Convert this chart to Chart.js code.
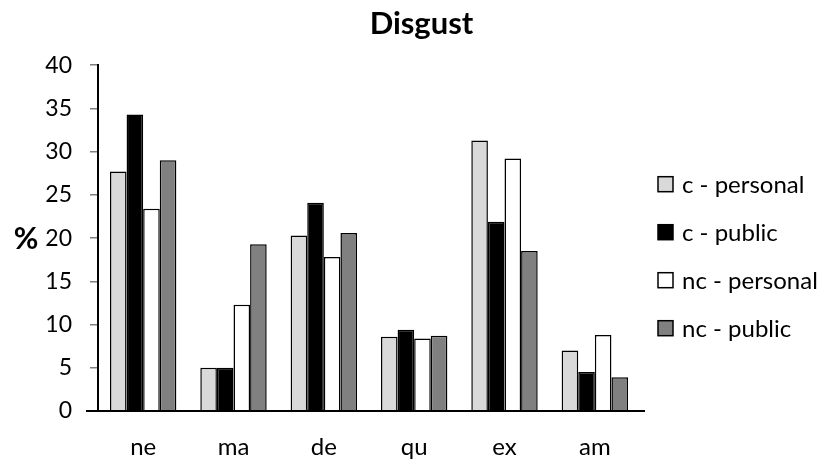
<!DOCTYPE html>
<html>
<head>
<meta charset="utf-8">
<title>Disgust</title>
<script src="https://cdn.jsdelivr.net/npm/chart.js@4/dist/chart.umd.min.js"></script>
<style>
  html, body { margin: 0; padding: 0; background: #fff; }
  #wrap { width: 821px; height: 461px; }
</style>
</head>
<body>
<div id="wrap"><canvas id="chart" width="821" height="461"></canvas></div>
<script>
// Categories and percentages per group
const categories = ['ne', 'ma', 'de', 'qu', 'ex', 'am'];
const cPersonal  = [27.7, 5.0, 20.3, 8.6, 31.3, 7.0];
const cPublic    = [34.3, 5.0, 24.1, 9.4, 21.9, 4.5];
const ncPersonal = [23.4, 12.3, 17.8, 8.4, 29.2, 8.8];
const ncPublic   = [29.0, 19.3, 20.6, 8.7, 18.5, 3.9];
const seriesNames = ['c - personal', 'c - public', 'nc - personal', 'nc - public'];
const yTicks = [0, 5, 10, 15, 20, 25, 30, 35, 40];

const FONT = 'Lato, "Open Sans", sans-serif';
const fills = ['#d9d9d9', '#000000', '#ffffff', '#808080'];
const seriesValues = [cPersonal, cPublic, ncPersonal, ncPublic];

const datasets = seriesNames.map((name, i) => ({
  label: name,
  data: seriesValues[i],
  backgroundColor: fills[i],
  borderColor: '#000',
  borderWidth: 1.5,
  borderSkipped: 'start',
  categoryPercentage: 0.735,
  barPercentage: 1.0
}));

// Extra drawing: "%" axis label, axis line extensions and the legend
const decorations = {
  id: 'decorations',
  afterDraw(chart) {
    const { ctx, chartArea: a } = chart;
    ctx.save();
    // x axis line runs slightly past both ends
    ctx.strokeStyle = '#000';
    ctx.lineWidth = 2;
    ctx.beginPath();
    ctx.moveTo(86, a.bottom);
    ctx.lineTo(a.right + 5, a.bottom);
    ctx.stroke();

    // horizontal "%" axis title
    ctx.fillStyle = '#000';
    ctx.font = 'bold 30px ' + FONT;
    ctx.textAlign = 'center';
    ctx.textBaseline = 'middle';
    ctx.fillText('%', 26, (a.top + a.bottom) / 2 + 1);

    // legend
    ctx.font = '24px ' + FONT;
    ctx.textAlign = 'left';
    const bx = a.right + 18;
    chart.data.datasets.forEach((ds, i) => {
      const cy = a.top + 119 + i * 48;
      ctx.fillStyle = ds.backgroundColor;
      ctx.fillRect(bx, cy - 7.5, 15, 15);
      ctx.strokeStyle = '#000';
      ctx.lineWidth = 1.5;
      ctx.strokeRect(bx, cy - 7.5, 15, 15);
      ctx.fillStyle = '#000';
      ctx.fillText(ds.label, bx + 24, cy + 1);
    });
    ctx.restore();
  }
};

new Chart(document.getElementById('chart'), {
  type: 'bar',
  data: { labels: categories, datasets },
  options: {
    responsive: false,
    animation: false,
    devicePixelRatio: 1,
    layout: { padding: { left: 22, right: 0, top: 0, bottom: 0 } },
    plugins: {
      legend: { display: false },
      tooltip: { enabled: false },
      title: {
        display: true,
        text: 'Disgust',
        color: '#000',
        font: { family: FONT, size: 31, weight: 'bold', lineHeight: 1.2 },
        padding: { top: 5, bottom: 23 }
      }
    },
    scales: {
      x: {
        grid: { display: false, drawTicks: false },
        border: { display: true, color: '#000', width: 2 },
        ticks: {
          color: '#000',
          font: { family: FONT, size: 24 },
          padding: 22,
          maxRotation: 0
        },
        afterFit(scale) { scale.height = 50; }
      },
      y: {
        min: 0,
        max: 40,
        afterBuildTicks(scale) {
          scale.ticks = yTicks.map(v => ({ value: v }));
        },
        afterFit(scale) { scale.width = 76; },
        grid: {
          drawOnChartArea: false,
          drawTicks: true,
          tickLength: 8,
          color: '#7f7f7f',
          lineWidth: 1.5
        },
        border: { display: true, color: '#000', width: 2 },
        ticks: {
          color: '#000',
          font: { family: FONT, size: 23 },
          padding: 18
        }
      },
      // empty right-hand strip that leaves room for the legend
      legendSpace: {
        position: 'right',
        display: true,
        min: 0,
        max: 40,
        grid: { display: false, drawTicks: false },
        border: { display: false },
        ticks: { display: false },
        afterFit(scale) { scale.width = 181; }
      }
    }
  },
  plugins: [decorations]
});
</script>
</body>
</html>
